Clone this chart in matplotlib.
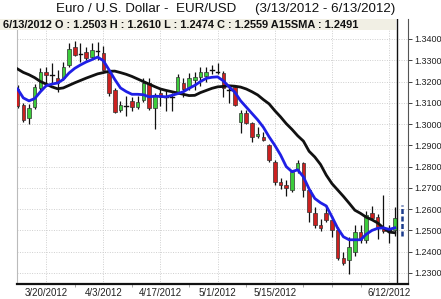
import matplotlib
matplotlib.use("Agg")
import matplotlib.pyplot as plt
from matplotlib.patches import Rectangle
import numpy as np

plt.rcParams['font.family'] = ['Liberation Sans', 'DejaVu Sans']

# ---- data ----
opens = [1.3165, 1.3090, 1.3030, 1.3080, 1.3170, 1.3245, 1.3230, 1.3215, 1.3215, 1.3280,
         1.3360, 1.3330, 1.3340, 1.3315, 1.3345, 1.3335, 1.3240, 1.3160, 1.3065, 1.3085,
         1.3110, 1.3080, 1.3115, 1.3195, 1.3075, 1.3145, 1.3130, 1.3125, 1.3145, 1.3195,
         1.3175, 1.3205, 1.3222, 1.3225, 1.3255, 1.3245, 1.3240, 1.3160, 1.3175, 1.3010,
         1.3053, 1.3005, 1.2945, 1.2940, 1.2902, 1.2823, 1.2729, 1.2715, 1.2690, 1.2785,
         1.2817, 1.2690, 1.2583, 1.2527, 1.2583, 1.2550, 1.2503, 1.2372, 1.2362, 1.2400,
         1.2494, 1.2456, 1.2583, 1.2565, 1.2510, 1.2505, 1.2503]
highs = [1.3185, 1.3098, 1.3095, 1.3190, 1.3265, 1.3270, 1.3285, 1.3255, 1.3290, 1.3380,
         1.3390, 1.3380, 1.3360, 1.3380, 1.3385, 1.3365, 1.3250, 1.3170, 1.3110, 1.3130,
         1.3125, 1.3130, 1.3215, 1.3215, 1.3145, 1.3165, 1.3160, 1.3145, 1.3235, 1.3215,
         1.3240, 1.3245, 1.3270, 1.3270, 1.3280, 1.3288, 1.3250, 1.3175, 1.3180, 1.3067,
         1.3068, 1.3010, 1.2985, 1.2965, 1.2905, 1.2830, 1.2745, 1.2735, 1.2785, 1.2830,
         1.2820, 1.2695, 1.2611, 1.2555, 1.2620, 1.2570, 1.2517, 1.2400, 1.2470, 1.2525,
         1.2525, 1.2590, 1.2615, 1.2578, 1.2667, 1.2527, 1.2610]
lows = [1.3075, 1.3010, 1.3000, 1.3070, 1.3160, 1.3190, 1.3190, 1.3150, 1.3205, 1.3270,
        1.3320, 1.3290, 1.3300, 1.3305, 1.3300, 1.3250, 1.3130, 1.3050, 1.3055, 1.3040,
        1.3060, 1.3070, 1.3105, 1.3065, 1.2975, 1.3085, 1.3060, 1.3060, 1.3140, 1.3125,
        1.3160, 1.3160, 1.3180, 1.3200, 1.3235, 1.3235, 1.3128, 1.3100, 1.3087, 1.2958,
        1.3000, 1.2917, 1.2935, 1.2920, 1.2820, 1.2715, 1.2695, 1.2660, 1.2680, 1.2770,
        1.2658, 1.2541, 1.2513, 1.2498, 1.2540, 1.2470, 1.2362, 1.2335, 1.2296, 1.2381,
        1.2440, 1.2440, 1.2555, 1.2458, 1.2489, 1.2442, 1.2474]
closes = [1.3085, 1.3020, 1.3075, 1.3175, 1.3245, 1.3232, 1.3228, 1.3195, 1.3270, 1.3355,
          1.3325, 1.3332, 1.3312, 1.3350, 1.3343, 1.3255, 1.3145, 1.3057, 1.3090, 1.3083,
          1.3080, 1.3105, 1.3195, 1.3075, 1.3130, 1.3125, 1.3128, 1.3130, 1.3220, 1.3165,
          1.3215, 1.3222, 1.3245, 1.3245, 1.3258, 1.3242, 1.3170, 1.3158, 1.3090, 1.3050,
          1.3005, 1.2940, 1.2955, 1.2925, 1.2832, 1.2729, 1.2715, 1.2700, 1.2775, 1.2817,
          1.2690, 1.2588, 1.2527, 1.2512, 1.2550, 1.2503, 1.2372, 1.2345, 1.2420, 1.2494,
          1.2456, 1.2573, 1.2560, 1.2517, 1.2495, 1.2500, 1.2559]
sma_black = [1.3259, 1.3243, 1.3232, 1.3218, 1.3200, 1.3188, 1.3175, 1.3166, 1.3170, 1.3182,
             1.3194, 1.3205, 1.3216, 1.3226, 1.3236, 1.3242, 1.3248, 1.3249, 1.3242, 1.3234,
             1.3224, 1.3212, 1.3200, 1.3188, 1.3176, 1.3165, 1.3158, 1.3152, 1.3146, 1.3140,
             1.3134, 1.3135, 1.3148, 1.3158, 1.3168, 1.3175, 1.3177, 1.3180, 1.3178, 1.3174,
             1.3165, 1.3152, 1.3137, 1.3115, 1.3095, 1.3063, 1.3034, 1.3002, 1.2975, 1.2945,
             1.2920, 1.2872, 1.2845, 1.2810, 1.2760, 1.2720, 1.2690, 1.2660, 1.2628, 1.2595,
             1.2580, 1.2562, 1.2550, 1.2535, 1.2512, 1.2492, 1.2489]
avg_blue = [1.3165, 1.3123, 1.3109, 1.3120, 1.3152, 1.3180, 1.3188, 1.3193, 1.3210, 1.3240,
            1.3262, 1.3278, 1.3292, 1.3303, 1.3315, 1.3298, 1.3255, 1.3210, 1.3170, 1.3153,
            1.3140, 1.3140, 1.3138, 1.3128, 1.3131, 1.3130, 1.3128, 1.3135, 1.3143, 1.3152,
            1.3168, 1.3182, 1.3200, 1.3215, 1.3220, 1.3222, 1.3203, 1.3175, 1.3150, 1.3110,
            1.3080, 1.3050, 1.3020, 1.2985, 1.2940, 1.2900, 1.2855, 1.2800, 1.2776, 1.2785,
            1.2752, 1.2695, 1.2650, 1.2630, 1.2615, 1.2564, 1.2510, 1.2470, 1.2456, 1.2456,
            1.2456, 1.2482, 1.2500, 1.2510, 1.2512, 1.2505, 1.2512]
date_labels = ["3/20/2012", "4/3/2012", "4/17/2012", "5/1/2012", "5/15/2012", "6/12/2012"]
date_label_idx = [5, 15, 25, 35, 45, 65]
grid_idx = [5, 15, 25, 35, 45, 55, 65]
proj_range = [1.2475, 1.2620]
yticks = [1.23, 1.24, 1.25, 1.26, 1.27, 1.28, 1.29, 1.30, 1.31, 1.32, 1.33, 1.34]

title = "Euro / U.S. Dollar -  EUR/USD     (3/13/2012 - 6/13/2012)"
info = "6/13/2012 O : 1.2503 H : 1.2610 L : 1.2474 C : 1.2559 A15SMA : 1.2491"

# ---- figure ----
W, H = 441, 299
fig = plt.figure(figsize=(W / 100, H / 100), dpi=100)
ax_l, ax_r, ax_b, ax_t = 17, 408, 284, 19
ax = fig.add_axes([ax_l / W, 1 - ax_b / H, (ax_r - ax_l) / W, (ax_b - ax_t) / H])

n = len(opens)
x = np.arange(n)
ax.set_xlim(-0.1, 68.3)
ax.set_ylim(1.2248, 1.3494)

# grid
for v in yticks:
    ax.axhline(v, color='#cfcfcf', lw=0.7, ls=(0, (1, 1.5)), zorder=0)
for gi in grid_idx:
    ax.axvline(gi, color='#cfcfcf', lw=0.7, ls=(0, (1, 1.5)), zorder=0)

# candles
bw = 0.62
for i in range(n):
    o, h, l, c = opens[i], highs[i], lows[i], closes[i]
    ax.plot([i, i], [l, h], color='#111111', lw=0.9, zorder=2, solid_capstyle='butt')
    if abs(c - o) < 0.0006:
        ax.plot([i - bw / 2, i + bw / 2], [(o + c) / 2] * 2, color='#111111', lw=1.0, zorder=3)
    else:
        col = '#3ccc3c' if c > o else '#cc2020'
        ax.add_patch(Rectangle((i - bw / 2, min(o, c)), bw, abs(c - o),
                               facecolor=col, edgecolor='#333333', lw=0.5, zorder=3))

# lines
ax.plot(x, sma_black, color='#111111', lw=2.0, zorder=4, solid_joinstyle='round')
ax.plot(x, avg_blue, color='#1f1fe6', lw=2.0, zorder=5, solid_joinstyle='round')

# cursor line & projection
ax.axvline(n - 1 + 0.3, color='#111111', lw=1.0, zorder=6, ymax=1.0)
ax.plot([n + 0.2, n + 0.2], proj_range, color='#1c3c8c', lw=1.8, ls=(0, (2, 1)), zorder=6)

# axes styling
ax.set_yticks(yticks)
ax.set_yticklabels([f"{v:.4f}" for v in yticks])
ax.yaxis.tick_right()
ax.tick_params(axis='y', length=3, width=0.6, labelsize=6.5, pad=1.5, colors='#222222')
ax.set_xticks(date_label_idx)
ax.set_xticklabels(date_labels)
ax.set_xticks([10, 20, 30, 40, 50, 55, 60], minor=True)
ax.tick_params(axis='x', which='major', length=0, labelsize=7, pad=3, colors='#222222')
ax.tick_params(axis='x', which='minor', length=2, width=0.6, color='#999999')
ax.spines['top'].set_visible(False)
ax.spines['left'].set_color('#bbbbbb')
ax.spines['left'].set_linewidth(0.8)
ax.spines['right'].set_color('#555555')
ax.spines['right'].set_linewidth(0.8)
ax.spines['bottom'].set_color('#111111')
ax.spines['bottom'].set_linewidth(1.6)

# info bar
fig.patches.append(Rectangle((0, 1 - 30 / H), 396 / W, 11 / H, transform=fig.transFigure,
                             facecolor='#f1efe4', edgecolor='none', zorder=5))
fig.text(3 / W, 1 - 25.5 / H, info, fontsize=7.9, fontweight='bold', va='center', ha='left',
         color='#111111', zorder=6)
fig.text(226 / W, 1 - 9 / H, title, fontsize=9.6, va='center', ha='center', color='#111111')

fig.savefig('out.png', dpi=100)
